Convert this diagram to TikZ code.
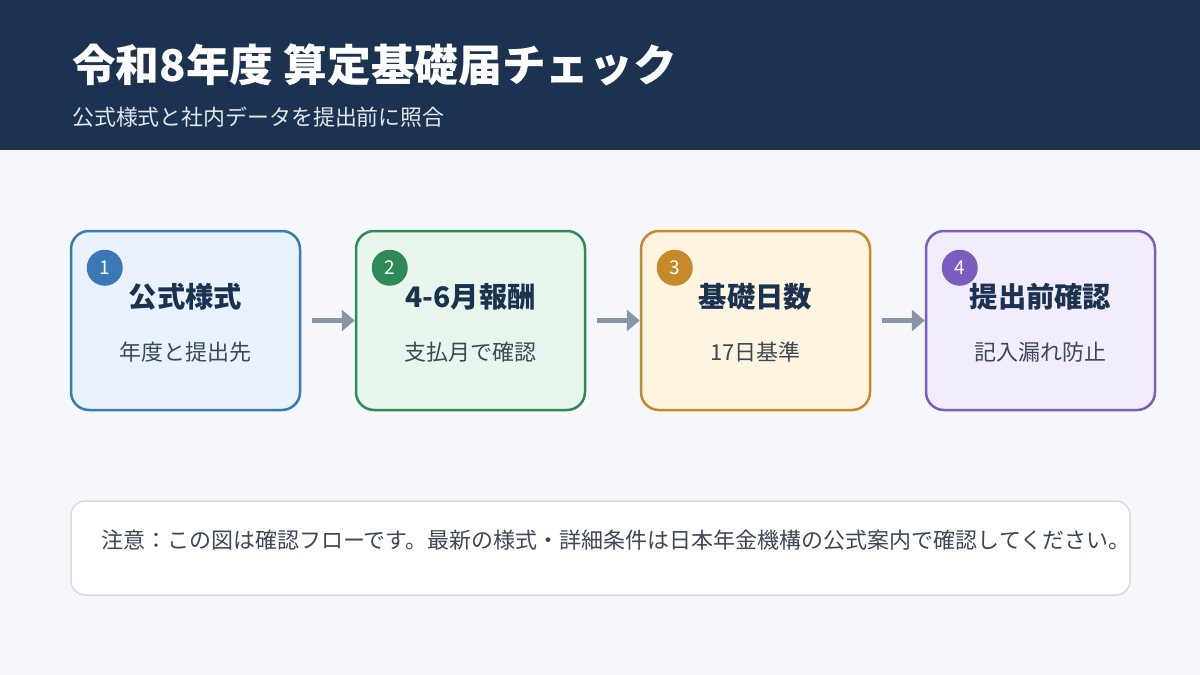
\documentclass[tikz,border=0pt]{standalone}
\usepackage{fontspec}
\setmainfont{Noto Sans CJK JP}
\usetikzlibrary{arrows.meta,positioning}

\definecolor{navy}{HTML}{1B3350}
\definecolor{pagebg}{HTML}{F5F7FB}
\definecolor{subgray}{HTML}{3D4756}
\definecolor{arrowgray}{HTML}{8795A6}
\definecolor{noteline}{HTML}{D6DCE6}
\definecolor{blueline}{HTML}{3A78B8}
\definecolor{bluefill}{HTML}{E9F2FD}
\definecolor{greenline}{HTML}{2E8B57}
\definecolor{greenfill}{HTML}{E8F6EC}
\definecolor{goldline}{HTML}{C58A2A}
\definecolor{goldfill}{HTML}{FEF4E0}
\definecolor{purpleline}{HTML}{7B5CC0}
\definecolor{purplefill}{HTML}{F1EDFC}

\tikzset{
  stepcard/.style 2 args={draw=#1,fill=#2,line width=2.5pt,rounded corners=18pt,
    minimum width=229pt,minimum height=179pt,inner sep=0pt},
  stepnum/.style={circle,fill=#1,text=white,minimum size=36pt,inner sep=0pt,
    font=\fontsize{19}{22}\selectfont},
  steptitle/.style={text=navy,font=\fontsize{28.3}{34}\selectfont\bfseries},
  stepsub/.style={text=subgray,font=\fontsize{22}{26}\selectfont},
  flow/.style={draw=arrowgray,line width=5pt,-{Triangle[length=13pt,width=21pt]}}
}

\begin{document}
\begin{tikzpicture}[x=1pt,y=-1pt]
  \fill[pagebg] (0,0) rectangle (1200,675);
  \useasboundingbox (0,0) rectangle (1200,675);

  % header
  \fill[navy] (0,0) rectangle (1200,150);
  \node[anchor=west,text=white,inner sep=0pt,font=\fontsize{43.7}{52}\selectfont\bfseries]
    (title) at (72,65) {令和8年度 算定基礎届チェック};
  \node[anchor=west,text=white!88!navy,inner sep=0pt,font=\fontsize{21.9}{26}\selectfont]
    (subtitle) at (72,117) {公式様式と社内データを提出前に照合};

  % steps
  \node[stepcard={blueline}{bluefill}] (form) at (185.5,320.5) {};
  \node[stepcard={greenline}{greenfill}] (pay) at (470.5,320.5) {};
  \node[stepcard={goldline}{goldfill}] (days) at (755.5,320.5) {};
  \node[stepcard={purpleline}{purplefill}] (final) at (1040.5,320.5) {};

  \node[stepnum=blueline] (formN) at ([xshift=35pt,yshift=-38pt]form.north west) {1};
  \node[stepnum=greenline] (payN) at ([xshift=35pt,yshift=-38pt]pay.north west) {2};
  \node[stepnum=goldline] (daysN) at ([xshift=35pt,yshift=-38pt]days.north west) {3};
  \node[stepnum=purpleline] (finalN) at ([xshift=35pt,yshift=-38pt]final.north west) {4};

  \node[steptitle] (formT) at ([yshift=23.5pt]form.center) {公式様式};
  \node[stepsub] (formS) at ([yshift=-31.5pt]form.center) {年度と提出先};
  \node[steptitle] (payT) at ([yshift=23.5pt]pay.center) {4-6月報酬};
  \node[stepsub] (payS) at ([yshift=-31.5pt]pay.center) {支払月で確認};
  \node[steptitle] (daysT) at ([yshift=23.5pt]days.center) {基礎日数};
  \node[stepsub] (daysS) at ([yshift=-31.5pt]days.center) {17日基準};
  \node[steptitle] (finalT) at ([yshift=23.5pt]final.center) {提出前確認};
  \node[stepsub] (finalS) at ([yshift=-31.5pt]final.center) {記入漏れ防止};

  \draw[flow] ([xshift=11pt]form.east) -- (pay.west);
  \draw[flow] ([xshift=11pt]pay.east) -- (days.west);
  \draw[flow] ([xshift=11pt]days.east) -- (final.west);

  % note
  \node[draw=noteline,fill=white,line width=1.5pt,rounded corners=14pt,
    minimum width=1059pt,minimum height=94pt,inner sep=0pt] (note) at (600.5,548) {};
  \node[anchor=west,text=subgray,inner sep=0pt,font=\fontsize{22}{26}\selectfont]
    (noteT) at (101,540) {注意：この図は確認フローです。最新の様式・詳細条件は日本年金機構の公式案内で確認してください。};
\end{tikzpicture}
\end{document}
